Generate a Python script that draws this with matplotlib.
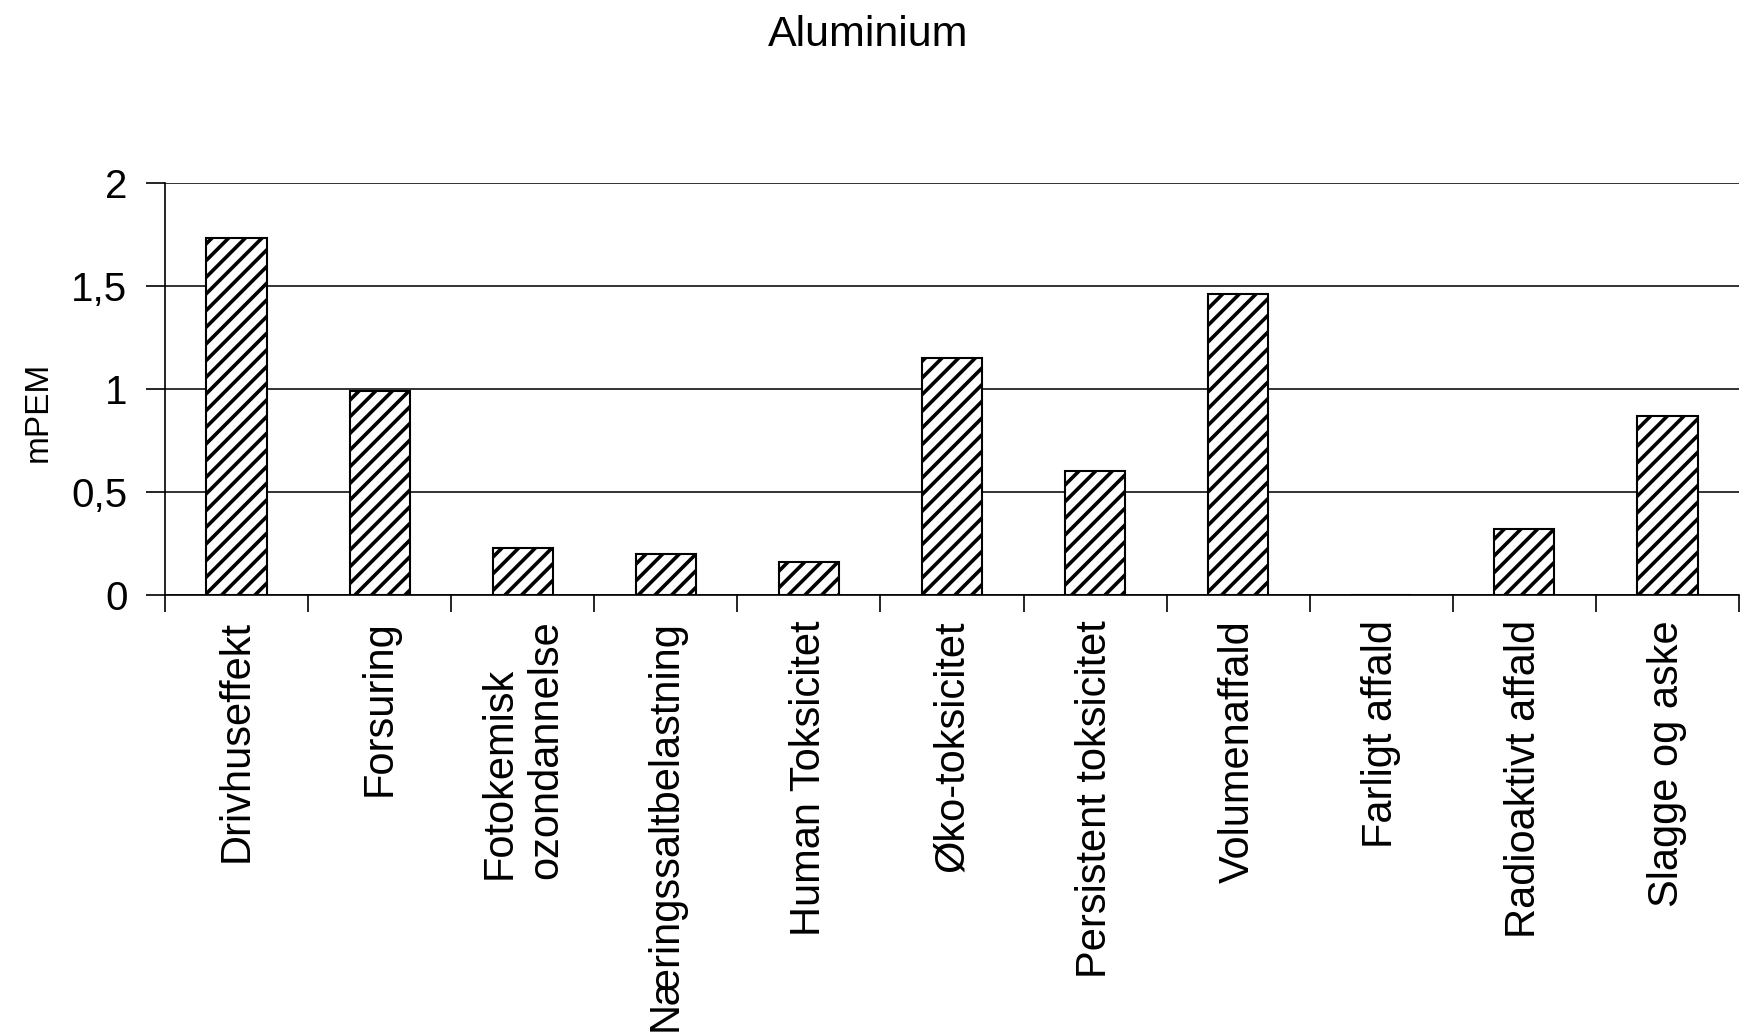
import numpy as np
import matplotlib.pyplot as plt

plt.rcParams['font.family'] = ['Liberation Sans', 'DejaVu Sans']
plt.rcParams['hatch.linewidth'] = 2.6

# Data
kategorier = ['Drivhuseffekt', 'Forsuring', 'Fotokemisk\nozondannelse',
              'Næringssaltbelastning', 'Human Toksicitet', 'Øko-toksicitet',
              'Persistent toksicitet', 'Volumenaffald', 'Farligt affald',
              'Radioaktivt affald', 'Slagge og aske']
vaerdier = [1.73, 0.99, 0.23, 0.20, 0.16, 1.15, 0.60, 1.46, 0.0, 0.32, 0.87]
y_ticks = [0, 0.5, 1, 1.5, 2]
y_labels = ['0', '0,5', '1', '1,5', '2']

fig = plt.figure(figsize=(17.46, 10.33), dpi=100)
ax = fig.add_axes([0.0945, 0.424, 0.9015, 0.399])

x = np.arange(len(kategorier))
ax.bar(x, vaerdier, width=0.42, color='white', edgecolor='black',
       linewidth=1.5, hatch='//', zorder=3)

ax.set_xlim(-0.5, len(kategorier) - 0.5)
ax.set_ylim(0, 2)
ax.set_yticks(y_ticks)
ax.set_yticklabels(y_labels, fontsize=29)
ax.yaxis.grid(True, color='#222222', linewidth=1.3, zorder=0)

ax.set_xticks(x)
ax.set_xticklabels(kategorier, rotation=90, fontsize=30, va='top',
                   ha='center', multialignment='left')
ax.tick_params(axis='x', length=0, pad=18)
ax.set_xticks(np.arange(-0.5, len(kategorier)), minor=True)
ax.tick_params(axis='x', which='minor', length=12, width=1.2, direction='out')
ax.tick_params(axis='y', length=14, width=1.2, direction='out', pad=13)

for s in ['top', 'right']:
    ax.spines[s].set_visible(False)
ax.spines['left'].set_linewidth(1.2)
ax.spines['bottom'].set_linewidth(1.2)

ax.set_ylabel('mPEM', fontsize=24)
ax.yaxis.set_label_coords(-0.071, 0.445)
fig.suptitle('Aluminium', fontsize=31, y=0.985, x=0.497)

fig.savefig('out.png', dpi=100)
